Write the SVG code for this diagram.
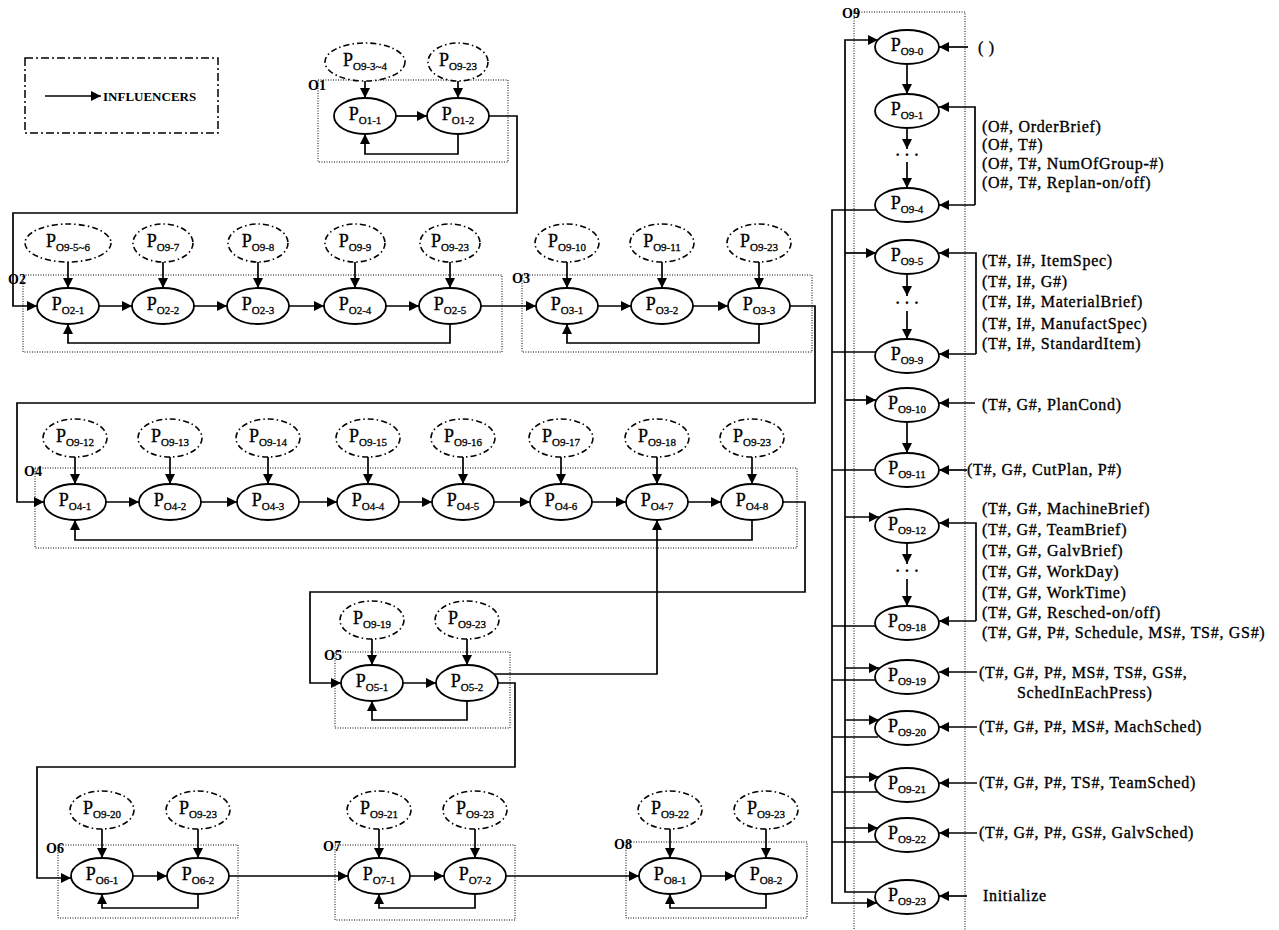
<svg xmlns="http://www.w3.org/2000/svg" width="1279" height="930" viewBox="0 0 1279 930">
<defs>
<marker id="ah" viewBox="0 0 10 10" refX="10" refY="5" markerWidth="11" markerHeight="10" markerUnits="userSpaceOnUse" orient="auto"><path d="M0,0 L10,5 L0,10 z" fill="#000"/></marker>
<style>
.n{fill:#fff;stroke:#000;stroke-width:1.8}
.d{fill:#fff;stroke:#000;stroke-width:1.6;stroke-dasharray:6 3 1.5 3}
.box{fill:none;stroke:#000;stroke-width:1;stroke-dasharray:1 1.5}
.c{fill:none;stroke:#000;stroke-width:1.7}
.a{marker-end:url(#ah)}
.t{font-family:"Liberation Serif","Times New Roman",serif;font-size:18px;text-anchor:middle;fill:#000;stroke:#000;stroke-width:0.3}
.s{font-size:11px}
.lab{font-family:"Liberation Serif","Times New Roman",serif;font-weight:bold;font-size:14px;fill:#000}
.r{font-family:"Liberation Serif","Times New Roman",serif;font-size:16px;letter-spacing:0.7px;fill:#000;stroke:#000;stroke-width:0.35}
.dots{font-family:"Liberation Serif",serif;font-size:16px;font-weight:bold;text-anchor:middle}
</style>
</defs>
<rect width="1279" height="930" fill="#fff"/>

<g id="legend">
<rect x="25" y="58" width="193" height="75" fill="none" stroke="#000" stroke-width="1.5" stroke-dasharray="8 3 2 3"/>
<path class="c a" d="M45 96 H101"/>
<text x="103" y="101" font-family="Liberation Serif,serif" font-weight="bold" font-size="13" fill="#000">INFLUENCERS</text>
</g>

<g id="groups">
<g id="O1"><rect class="box" x="318" y="80" width="190" height="82"/><text class="lab" x="308" y="90">O1</text></g>
<g id="O2"><rect class="box" x="23" y="275" width="479" height="77"/><text class="lab" x="8" y="284">O2</text></g>
<g id="O3"><rect class="box" x="522" y="275" width="290" height="77"/><text class="lab" x="512" y="283">O3</text></g>
<g id="O4"><rect class="box" x="35" y="468" width="762" height="80"/><text class="lab" x="24" y="476">O4</text></g>
<g id="O5"><rect class="box" x="335" y="652" width="175" height="76"/><text class="lab" x="324" y="660">O5</text></g>
<g id="O6"><rect class="box" x="58" y="845" width="180" height="73"/><text class="lab" x="46" y="853">O6</text></g>
<g id="O7"><rect class="box" x="335" y="845" width="180" height="75"/><text class="lab" x="323" y="851">O7</text></g>
<g id="O8"><rect class="box" x="626" y="842" width="181" height="76"/><text class="lab" x="614" y="849">O8</text></g>
<g id="O9"><rect class="box" x="854" y="12" width="111" height="930"/><text class="lab" x="842" y="18">O9</text></g>
</g>

<g id="connectors">
<path class="c a" d="M365 81 V98"/>
<path class="c a" d="M458 81 V98"/>
<path class="c a" d="M396 116 H427"/>
<path class="c a" d="M458 134 V154 H365 V134"/>
<path class="c a" d="M489 116 H517 V213 H13 V306 H37"/>
<path class="c a" d="M68 262 V288"/>
<path class="c a" d="M163 262 V288"/>
<path class="c a" d="M258 262 V288"/>
<path class="c a" d="M355 262 V288"/>
<path class="c a" d="M450 262 V288"/>
<path class="c a" d="M99 306 H132"/>
<path class="c a" d="M194 306 H227"/>
<path class="c a" d="M289 306 H324"/>
<path class="c a" d="M386 306 H419"/>
<path class="c a" d="M450 324 V343 H68 V324"/>
<path class="c a" d="M481 306 H536"/>
<path class="c a" d="M567 262 V288"/>
<path class="c a" d="M662 262 V288"/>
<path class="c a" d="M759 262 V288"/>
<path class="c a" d="M598 306 H631"/>
<path class="c a" d="M693 306 H728"/>
<path class="c a" d="M759 324 V343 H567 V324"/>
<path class="c a" d="M790 306 H815 V403 H17 V502 H44"/>
<path class="c a" d="M75 457 V484"/>
<path class="c a" d="M170 457 V484"/>
<path class="c a" d="M268 457 V484"/>
<path class="c a" d="M368 457 V484"/>
<path class="c a" d="M463 457 V484"/>
<path class="c a" d="M561 457 V484"/>
<path class="c a" d="M657 457 V484"/>
<path class="c a" d="M752 457 V484"/>
<path class="c a" d="M106 502 H139"/>
<path class="c a" d="M201 502 H237"/>
<path class="c a" d="M299 502 H337"/>
<path class="c a" d="M399 502 H432"/>
<path class="c a" d="M494 502 H530"/>
<path class="c a" d="M592 502 H626"/>
<path class="c a" d="M688 502 H721"/>
<path class="c a" d="M752 520 V540 H75 V520"/>
<path class="c a" d="M783 502 H805 V592 H310 V683 H341"/>
<path class="c a" d="M372 639 V665"/>
<path class="c a" d="M467 639 V665"/>
<path class="c a" d="M403 683 H436"/>
<path class="c a" d="M467 701 V720 H372 V701"/>
<path class="c a" d="M494 674 H657 V520"/>
<path class="c a" d="M498 683 H515 V767 H37 V878 H71"/>
<path class="c a" d="M102 829 V858"/>
<path class="c a" d="M198 829 V858"/>
<path class="c a" d="M133 876 H167"/>
<path class="c a" d="M198 894 V908 H102 V894"/>
<path class="c a" d="M229 876 H348"/>
<path class="c a" d="M379 829 V858"/>
<path class="c a" d="M475 829 V858"/>
<path class="c a" d="M410 876 H444"/>
<path class="c a" d="M475 894 V908 H379 V894"/>
<path class="c a" d="M506 876 H639"/>
<path class="c a" d="M670 829 V858"/>
<path class="c a" d="M766 829 V858"/>
<path class="c a" d="M701 876 H735"/>
<path class="c a" d="M766 894 V908 H670 V894"/>
<path class="c a" d="M907 64 V94"/>
<path class="c a" d="M907 128 V149"/>
<path class="c a" d="M907 162 V188"/>
<path class="c a" d="M907 274 V296"/>
<path class="c a" d="M907 311 V339"/>
<path class="c a" d="M907 422 V453"/>
<path class="c a" d="M907 543 V564"/>
<path class="c a" d="M907 579 V606"/>
<path class="c a" d="M968 47 H939"/>
<path class="c a" d="M975 205 V107 H939"/>
<path class="c a" d="M975 205 H939"/>
<path class="c a" d="M976 354 V253 H939"/>
<path class="c a" d="M976 354 H939"/>
<path class="c a" d="M975 403 H939"/>
<path class="c a" d="M967 470 H939"/>
<path class="c a" d="M976 621 V523 H939"/>
<path class="c a" d="M976 621 H939"/>
<path class="c a" d="M977 672 H939"/>
<path class="c a" d="M977 727 H939"/>
<path class="c a" d="M977 783 H939"/>
<path class="c a" d="M977 833 H939"/>
<path class="c a" d="M967 896 H939"/>
<path class="c a" d="M876 892 H845 V40 H878"/>
<path class="c a" d="M845 253 H876"/>
<path class="c a" d="M845 400 H876"/>
<path class="c a" d="M845 517 H879"/>
<path class="c a" d="M845 668 H879"/>
<path class="c a" d="M845 720 H879"/>
<path class="c a" d="M845 777 H879"/>
<path class="c a" d="M845 828 H878"/>
<path class="c a" d="M876 210 H832 V903 H877"/>
<path class="c" d="M876 352 H832"/>
<path class="c" d="M875 470 H832"/>
<path class="c" d="M876 626 H832"/>
<path class="c" d="M876 680 H832"/>
<path class="c" d="M878 737 H832"/>
<path class="c" d="M877 792 H832"/>
<path class="c" d="M877 842 H832"/>
</g>

<g id="nodes">
<g id="I-O1-1"><ellipse class="d" cx="365" cy="62" rx="40" ry="19"/><text class="t" x="365" y="66">P<tspan class="s" dy="4">O9-3~4</tspan></text></g>
<g id="I-O1-2"><ellipse class="d" cx="458" cy="62" rx="30" ry="19"/><text class="t" x="458" y="66">P<tspan class="s" dy="4">O9-23</tspan></text></g>
<g id="P_O1-1"><ellipse class="n" cx="365" cy="116" rx="31" ry="18"/><text class="t" x="365" y="120">P<tspan class="s" dy="4">O1-1</tspan></text></g>
<g id="P_O1-2"><ellipse class="n" cx="458" cy="116" rx="31" ry="18"/><text class="t" x="458" y="120">P<tspan class="s" dy="4">O1-2</tspan></text></g>
<g id="I-O2-1"><ellipse class="d" cx="68" cy="243" rx="43" ry="19"/><text class="t" x="68" y="247">P<tspan class="s" dy="4">O9-5~6</tspan></text></g>
<g id="I-O2-2"><ellipse class="d" cx="163" cy="243" rx="30" ry="19"/><text class="t" x="163" y="247">P<tspan class="s" dy="4">O9-7</tspan></text></g>
<g id="I-O2-3"><ellipse class="d" cx="258" cy="243" rx="30" ry="19"/><text class="t" x="258" y="247">P<tspan class="s" dy="4">O9-8</tspan></text></g>
<g id="I-O2-4"><ellipse class="d" cx="355" cy="243" rx="30" ry="19"/><text class="t" x="355" y="247">P<tspan class="s" dy="4">O9-9</tspan></text></g>
<g id="I-O2-5"><ellipse class="d" cx="450" cy="243" rx="30" ry="19"/><text class="t" x="450" y="247">P<tspan class="s" dy="4">O9-23</tspan></text></g>
<g id="P_O2-1"><ellipse class="n" cx="68" cy="306" rx="31" ry="18"/><text class="t" x="68" y="310">P<tspan class="s" dy="4">O2-1</tspan></text></g>
<g id="P_O2-2"><ellipse class="n" cx="163" cy="306" rx="31" ry="18"/><text class="t" x="163" y="310">P<tspan class="s" dy="4">O2-2</tspan></text></g>
<g id="P_O2-3"><ellipse class="n" cx="258" cy="306" rx="31" ry="18"/><text class="t" x="258" y="310">P<tspan class="s" dy="4">O2-3</tspan></text></g>
<g id="P_O2-4"><ellipse class="n" cx="355" cy="306" rx="31" ry="18"/><text class="t" x="355" y="310">P<tspan class="s" dy="4">O2-4</tspan></text></g>
<g id="P_O2-5"><ellipse class="n" cx="450" cy="306" rx="31" ry="18"/><text class="t" x="450" y="310">P<tspan class="s" dy="4">O2-5</tspan></text></g>
<g id="I-O3-1"><ellipse class="d" cx="567" cy="243" rx="32" ry="19"/><text class="t" x="567" y="247">P<tspan class="s" dy="4">O9-10</tspan></text></g>
<g id="I-O3-2"><ellipse class="d" cx="662" cy="243" rx="32" ry="19"/><text class="t" x="662" y="247">P<tspan class="s" dy="4">O9-11</tspan></text></g>
<g id="I-O3-3"><ellipse class="d" cx="759" cy="243" rx="32" ry="19"/><text class="t" x="759" y="247">P<tspan class="s" dy="4">O9-23</tspan></text></g>
<g id="P_O3-1"><ellipse class="n" cx="567" cy="306" rx="31" ry="18"/><text class="t" x="567" y="310">P<tspan class="s" dy="4">O3-1</tspan></text></g>
<g id="P_O3-2"><ellipse class="n" cx="662" cy="306" rx="31" ry="18"/><text class="t" x="662" y="310">P<tspan class="s" dy="4">O3-2</tspan></text></g>
<g id="P_O3-3"><ellipse class="n" cx="759" cy="306" rx="31" ry="18"/><text class="t" x="759" y="310">P<tspan class="s" dy="4">O3-3</tspan></text></g>
<g id="I-O4-1"><ellipse class="d" cx="75" cy="438" rx="32" ry="19"/><text class="t" x="75" y="442">P<tspan class="s" dy="4">O9-12</tspan></text></g>
<g id="I-O4-2"><ellipse class="d" cx="170" cy="438" rx="32" ry="19"/><text class="t" x="170" y="442">P<tspan class="s" dy="4">O9-13</tspan></text></g>
<g id="I-O4-3"><ellipse class="d" cx="268" cy="438" rx="32" ry="19"/><text class="t" x="268" y="442">P<tspan class="s" dy="4">O9-14</tspan></text></g>
<g id="I-O4-4"><ellipse class="d" cx="368" cy="438" rx="32" ry="19"/><text class="t" x="368" y="442">P<tspan class="s" dy="4">O9-15</tspan></text></g>
<g id="I-O4-5"><ellipse class="d" cx="463" cy="438" rx="32" ry="19"/><text class="t" x="463" y="442">P<tspan class="s" dy="4">O9-16</tspan></text></g>
<g id="I-O4-6"><ellipse class="d" cx="561" cy="438" rx="32" ry="19"/><text class="t" x="561" y="442">P<tspan class="s" dy="4">O9-17</tspan></text></g>
<g id="I-O4-7"><ellipse class="d" cx="657" cy="438" rx="32" ry="19"/><text class="t" x="657" y="442">P<tspan class="s" dy="4">O9-18</tspan></text></g>
<g id="I-O4-8"><ellipse class="d" cx="752" cy="438" rx="32" ry="19"/><text class="t" x="752" y="442">P<tspan class="s" dy="4">O9-23</tspan></text></g>
<g id="P_O4-1"><ellipse class="n" cx="75" cy="502" rx="31" ry="18"/><text class="t" x="75" y="506">P<tspan class="s" dy="4">O4-1</tspan></text></g>
<g id="P_O4-2"><ellipse class="n" cx="170" cy="502" rx="31" ry="18"/><text class="t" x="170" y="506">P<tspan class="s" dy="4">O4-2</tspan></text></g>
<g id="P_O4-3"><ellipse class="n" cx="268" cy="502" rx="31" ry="18"/><text class="t" x="268" y="506">P<tspan class="s" dy="4">O4-3</tspan></text></g>
<g id="P_O4-4"><ellipse class="n" cx="368" cy="502" rx="31" ry="18"/><text class="t" x="368" y="506">P<tspan class="s" dy="4">O4-4</tspan></text></g>
<g id="P_O4-5"><ellipse class="n" cx="463" cy="502" rx="31" ry="18"/><text class="t" x="463" y="506">P<tspan class="s" dy="4">O4-5</tspan></text></g>
<g id="P_O4-6"><ellipse class="n" cx="561" cy="502" rx="31" ry="18"/><text class="t" x="561" y="506">P<tspan class="s" dy="4">O4-6</tspan></text></g>
<g id="P_O4-7"><ellipse class="n" cx="657" cy="502" rx="31" ry="18"/><text class="t" x="657" y="506">P<tspan class="s" dy="4">O4-7</tspan></text></g>
<g id="P_O4-8"><ellipse class="n" cx="752" cy="502" rx="31" ry="18"/><text class="t" x="752" y="506">P<tspan class="s" dy="4">O4-8</tspan></text></g>
<g id="I-O5-1"><ellipse class="d" cx="372" cy="620" rx="32" ry="19"/><text class="t" x="372" y="624">P<tspan class="s" dy="4">O9-19</tspan></text></g>
<g id="I-O5-2"><ellipse class="d" cx="467" cy="620" rx="32" ry="19"/><text class="t" x="467" y="624">P<tspan class="s" dy="4">O9-23</tspan></text></g>
<g id="P_O5-1"><ellipse class="n" cx="372" cy="683" rx="31" ry="18"/><text class="t" x="372" y="687">P<tspan class="s" dy="4">O5-1</tspan></text></g>
<g id="P_O5-2"><ellipse class="n" cx="467" cy="683" rx="31" ry="18"/><text class="t" x="467" y="687">P<tspan class="s" dy="4">O5-2</tspan></text></g>
<g id="I-O6-1"><ellipse class="d" cx="102" cy="810" rx="32" ry="19"/><text class="t" x="102" y="814">P<tspan class="s" dy="4">O9-20</tspan></text></g>
<g id="I-O6-2"><ellipse class="d" cx="198" cy="810" rx="32" ry="19"/><text class="t" x="198" y="814">P<tspan class="s" dy="4">O9-23</tspan></text></g>
<g id="P_O6-1"><ellipse class="n" cx="102" cy="876" rx="31" ry="18"/><text class="t" x="102" y="880">P<tspan class="s" dy="4">O6-1</tspan></text></g>
<g id="P_O6-2"><ellipse class="n" cx="198" cy="876" rx="31" ry="18"/><text class="t" x="198" y="880">P<tspan class="s" dy="4">O6-2</tspan></text></g>
<g id="I-O7-1"><ellipse class="d" cx="379" cy="810" rx="32" ry="19"/><text class="t" x="379" y="814">P<tspan class="s" dy="4">O9-21</tspan></text></g>
<g id="I-O7-2"><ellipse class="d" cx="475" cy="810" rx="32" ry="19"/><text class="t" x="475" y="814">P<tspan class="s" dy="4">O9-23</tspan></text></g>
<g id="P_O7-1"><ellipse class="n" cx="379" cy="876" rx="31" ry="18"/><text class="t" x="379" y="880">P<tspan class="s" dy="4">O7-1</tspan></text></g>
<g id="P_O7-2"><ellipse class="n" cx="475" cy="876" rx="31" ry="18"/><text class="t" x="475" y="880">P<tspan class="s" dy="4">O7-2</tspan></text></g>
<g id="I-O8-1"><ellipse class="d" cx="670" cy="810" rx="32" ry="19"/><text class="t" x="670" y="814">P<tspan class="s" dy="4">O9-22</tspan></text></g>
<g id="I-O8-2"><ellipse class="d" cx="766" cy="810" rx="32" ry="19"/><text class="t" x="766" y="814">P<tspan class="s" dy="4">O9-23</tspan></text></g>
<g id="P_O8-1"><ellipse class="n" cx="670" cy="876" rx="31" ry="18"/><text class="t" x="670" y="880">P<tspan class="s" dy="4">O8-1</tspan></text></g>
<g id="P_O8-2"><ellipse class="n" cx="766" cy="876" rx="31" ry="18"/><text class="t" x="766" y="880">P<tspan class="s" dy="4">O8-2</tspan></text></g>
<g id="P_O9-0"><ellipse class="n" cx="907" cy="47" rx="32" ry="17"/><text class="t" x="907" y="51">P<tspan class="s" dy="4">O9-0</tspan></text></g>
<g id="P_O9-1"><ellipse class="n" cx="907" cy="111" rx="32" ry="17"/><text class="t" x="907" y="115">P<tspan class="s" dy="4">O9-1</tspan></text></g>
<text class="dots" x="907" y="160">· · ·</text>
<g id="P_O9-4"><ellipse class="n" cx="907" cy="205" rx="32" ry="17"/><text class="t" x="907" y="209">P<tspan class="s" dy="4">O9-4</tspan></text></g>
<g id="P_O9-5"><ellipse class="n" cx="907" cy="257" rx="32" ry="17"/><text class="t" x="907" y="261">P<tspan class="s" dy="4">O9-5</tspan></text></g>
<text class="dots" x="907" y="308">· · ·</text>
<g id="P_O9-9"><ellipse class="n" cx="907" cy="356" rx="32" ry="17"/><text class="t" x="907" y="360">P<tspan class="s" dy="4">O9-9</tspan></text></g>
<g id="P_O9-10"><ellipse class="n" cx="907" cy="405" rx="32" ry="17"/><text class="t" x="907" y="409">P<tspan class="s" dy="4">O9-10</tspan></text></g>
<g id="P_O9-11"><ellipse class="n" cx="907" cy="470" rx="32" ry="17"/><text class="t" x="907" y="474">P<tspan class="s" dy="4">O9-11</tspan></text></g>
<g id="P_O9-12"><ellipse class="n" cx="907" cy="526" rx="32" ry="17"/><text class="t" x="907" y="530">P<tspan class="s" dy="4">O9-12</tspan></text></g>
<text class="dots" x="907" y="576">· · ·</text>
<g id="P_O9-18"><ellipse class="n" cx="907" cy="623" rx="32" ry="17"/><text class="t" x="907" y="627">P<tspan class="s" dy="4">O9-18</tspan></text></g>
<g id="P_O9-19"><ellipse class="n" cx="907" cy="677" rx="32" ry="17"/><text class="t" x="907" y="681">P<tspan class="s" dy="4">O9-19</tspan></text></g>
<g id="P_O9-20"><ellipse class="n" cx="907" cy="728" rx="32" ry="17"/><text class="t" x="907" y="732">P<tspan class="s" dy="4">O9-20</tspan></text></g>
<g id="P_O9-21"><ellipse class="n" cx="907" cy="785" rx="32" ry="17"/><text class="t" x="907" y="789">P<tspan class="s" dy="4">O9-21</tspan></text></g>
<g id="P_O9-22"><ellipse class="n" cx="907" cy="835" rx="32" ry="17"/><text class="t" x="907" y="839">P<tspan class="s" dy="4">O9-22</tspan></text></g>
<g id="P_O9-23"><ellipse class="n" cx="907" cy="897" rx="32" ry="17"/><text class="t" x="907" y="901">P<tspan class="s" dy="4">O9-23</tspan></text></g>
</g>

<g id="inputs">
<text class="r" x="978" y="53">( )</text>
<text class="r" x="982" y="132">(O#, OrderBrief)</text>
<text class="r" x="982" y="150">(O#, T#)</text>
<text class="r" x="982" y="169">(O#, T#, NumOfGroup-#)</text>
<text class="r" x="982" y="188">(O#, T#, Replan-on/off)</text>
<text class="r" x="982" y="266">(T#, I#, ItemSpec)</text>
<text class="r" x="982" y="287">(T#, I#, G#)</text>
<text class="r" x="982" y="307">(T#, I#, MaterialBrief)</text>
<text class="r" x="982" y="329">(T#, I#, ManufactSpec)</text>
<text class="r" x="982" y="349">(T#, I#, StandardItem)</text>
<text class="r" x="982" y="410">(T#, G#, PlanCond)</text>
<text class="r" x="967" y="475">(T#, G#, CutPlan, P#)</text>
<text class="r" x="982" y="514">(T#, G#, MachineBrief)</text>
<text class="r" x="982" y="535">(T#, G#, TeamBrief)</text>
<text class="r" x="982" y="556">(T#, G#, GalvBrief)</text>
<text class="r" x="982" y="577">(T#, G#, WorkDay)</text>
<text class="r" x="982" y="598">(T#, G#, WorkTime)</text>
<text class="r" x="982" y="618">(T#, G#, Resched-on/off)</text>
<text class="r" x="982" y="638">(T#, G#, P#, Schedule, MS#, TS#, GS#)</text>
<text class="r" x="979" y="678">(T#, G#, P#, MS#, TS#, GS#,</text>
<text class="r" x="1017" y="698">SchedInEachPress)</text>
<text class="r" x="979" y="732">(T#, G#, P#, MS#, MachSched)</text>
<text class="r" x="979" y="788">(T#, G#, P#, TS#, TeamSched)</text>
<text class="r" x="979" y="838">(T#, G#, P#, GS#, GalvSched)</text>
<text class="r" x="983" y="901">Initialize</text>
</g>
</svg>
